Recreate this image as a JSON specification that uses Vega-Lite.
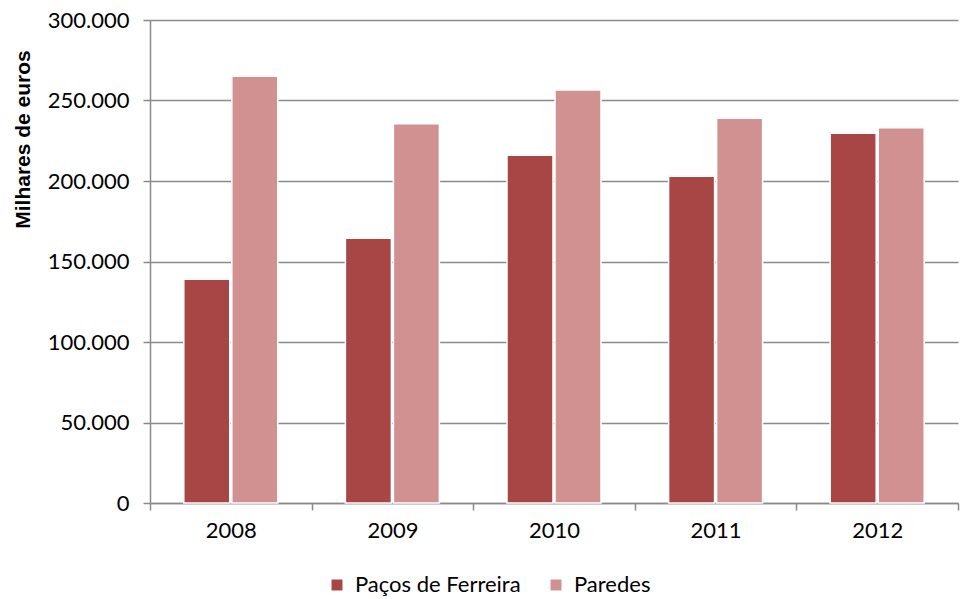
{
  "$schema": "https://vega.github.io/schema/vega-lite/v6.json",
  "width": 808,
  "height": 483,
  "autosize": "none",
  "padding": {"left": 150, "top": 20, "right": 3, "bottom": 96},
  "background": "white",
  "config": {
    "view": {"stroke": null},
    "font": "Lato"
  },
  "data": {
    "values": [
      {"ano": "2008", "municipio": "Paços de Ferreira", "valor": 139000},
      {"ano": "2008", "municipio": "Paredes", "valor": 265000},
      {"ano": "2009", "municipio": "Paços de Ferreira", "valor": 164500},
      {"ano": "2009", "municipio": "Paredes", "valor": 235500},
      {"ano": "2010", "municipio": "Paços de Ferreira", "valor": 216000},
      {"ano": "2010", "municipio": "Paredes", "valor": 256500},
      {"ano": "2011", "municipio": "Paços de Ferreira", "valor": 203000},
      {"ano": "2011", "municipio": "Paredes", "valor": 239000},
      {"ano": "2012", "municipio": "Paços de Ferreira", "valor": 229600},
      {"ano": "2012", "municipio": "Paredes", "valor": 233100}
    ]
  },
  "encoding": {
    "x": {
      "field": "ano",
      "type": "nominal",
      "scale": {"paddingInner": 0, "paddingOuter": 0},
      "axis": {
        "title": null,
        "labelAngle": 0,
        "labelFont": "Lato",
        "labelFontSize": 22,
        "labelColor": "#000000",
        "labelPadding": 10,
        "tickBand": "extent",
        "tickSize": 7,
        "tickColor": "#8a8a8a",
        "tickWidth": 1.5,
        "domainColor": "#8a8a8a",
        "domainWidth": 1.5,
        "grid": false
      }
    },
    "xOffset": {
      "field": "municipio",
      "type": "nominal",
      "sort": ["Paços de Ferreira", "Paredes"],
      "scale": {"paddingInner": 0.042, "paddingOuter": 0.704}
    },
    "y": {
      "field": "valor",
      "type": "quantitative",
      "scale": {"domain": [0, 300000], "nice": false},
      "axis": {
        "title": "Milhares de euros",
        "titleFont": "Liberation Sans",
        "titleFontSize": 21,
        "titleFontWeight": "bold",
        "titleColor": "#000000",
        "titleAngle": -90,
        "titleAlign": "center",
        "titleBaseline": "middle",
        "titleX": -127,
        "titleY": 119,
        "values": [0, 50000, 100000, 150000, 200000, 250000, 300000],
        "labelExpr": "replace(format(datum.value, ','), ',', '.')",
        "labelFont": "Lato",
        "labelFontSize": 22,
        "labelColor": "#000000",
        "labelPadding": 14,
        "tickSize": 7,
        "tickColor": "#8a8a8a",
        "tickWidth": 1.5,
        "domainColor": "#8a8a8a",
        "domainWidth": 1.5,
        "grid": true,
        "gridColor": "#8a8a8a",
        "gridWidth": 1.5
      }
    }
  },
  "layer": [
    {
      "mark": {"type": "bar", "color": "#000000", "opacity": 0.08, "xOffset": 2, "yOffset": -1},
      "encoding": {}
    },
    {
      "mark": {"type": "bar", "stroke": "#ffffff", "strokeWidth": 1.5},
      "encoding": {
        "color": {
          "field": "municipio",
          "type": "nominal",
          "scale": {
            "domain": ["Paços de Ferreira", "Paredes"],
            "range": ["#a84645", "#d19191"]
          },
          "legend": {
            "title": null,
            "orient": "none",
            "direction": "horizontal",
            "legendX": 176,
            "legendY": 554,
            "symbolType": "square",
            "symbolSize": 120,
            "symbolStrokeWidth": 0,
            "labelFont": "Lato",
            "labelFontSize": 22,
            "labelColor": "#000000",
            "labelLimit": 0,
            "labelOffset": 7,
            "columnPadding": 24
          }
        }
      }
    }
  ]
}
